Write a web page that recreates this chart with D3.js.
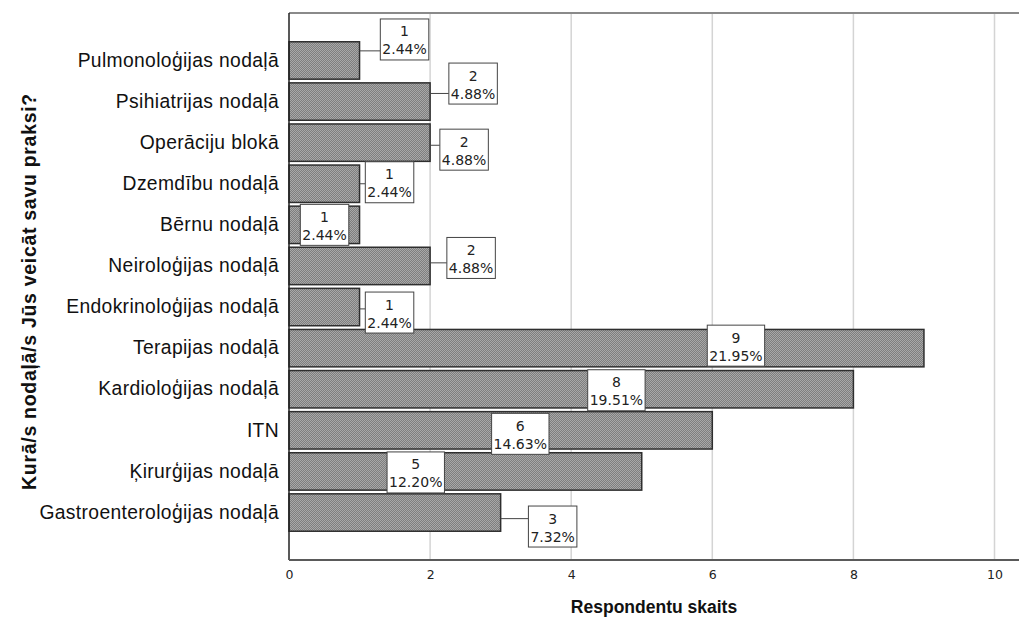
<!DOCTYPE html>
<html>
<head>
<meta charset="utf-8">
<script src="https://cdn.jsdelivr.net/npm/d3@7"></script>
<style>
  html, body { margin: 0; padding: 0; background: #fff; }
  svg { display: block; }
</style>
</head>
<body>
<svg id="chart" width="1019" height="621"></svg>
<script>
// Departments, listed top to bottom
const categories = [
  "Pulmonoloģijas nodaļā",
  "Psihiatrijas nodaļā",
  "Operāciju blokā",
  "Dzemdību nodaļā",
  "Bērnu nodaļā",
  "Neiroloģijas nodaļā",
  "Endokrinoloģijas nodaļā",
  "Terapijas nodaļā",
  "Kardioloģijas nodaļā",
  "ITN",
  "Ķirurģijas nodaļā",
  "Gastroenteroloģijas nodaļā"
];
// Number of respondents per department
const counts = [1, 2, 2, 1, 1, 2, 1, 9, 8, 6, 5, 3];
// Axis ticks
const xTicks = [0, 2, 4, 6, 8, 10];
const xTitle = "Respondentu skaits";
const yTitle = "Kurā/s nodaļā/s Jūs veicāt savu praksi?";

// Callout box centre offsets (px) from the bar end / bar centre
const calloutOffsets = [
  [45, -21], [43, -18], [34, 7], [30, -1.5], [-35, 0], [41, -8],
  [30, 5.5], [-188, -2.5], [-237, 1], [-192, 3.5], [-226, 1], [52, 14]
];

const total = d3.sum(counts);
const rows = categories.map((c, i) => ({
  cat: c,
  n: counts[i],
  pct: (counts[i] / total * 100).toFixed(2) + "%",
  off: calloutOffsets[i]
}));

const plot = { left: 289, top: 13, right: 1019, bottom: 560 };

const svg = d3.select("#chart");

// Checkered fill for the bars
const defs = svg.append("defs");
const pat = defs.append("pattern")
  .attr("id", "checker")
  .attr("width", 2).attr("height", 2)
  .attr("patternUnits", "userSpaceOnUse");
pat.append("rect").attr("width", 2).attr("height", 2).attr("fill", "#7e7e7e");
pat.append("rect").attr("x", 0).attr("y", 0).attr("width", 1).attr("height", 1).attr("fill", "#a8a8a8");
pat.append("rect").attr("x", 1).attr("y", 1).attr("width", 1).attr("height", 1).attr("fill", "#a8a8a8");

const x = d3.scaleLinear().domain([0, 10]).range([plot.left, 994.5]);
const y = d3.scaleBand()
  .domain(categories)
  .range([plot.top, plot.bottom])
  .paddingInner(0.09)
  .paddingOuter(0.7);

// Vertical grid lines
svg.append("g")
  .selectAll("line")
  .data(xTicks.filter(t => t > 0))
  .join("line")
  .attr("x1", d => x(d)).attr("x2", d => x(d))
  .attr("y1", plot.top).attr("y2", plot.bottom)
  .attr("stroke", "#d4d4d4")
  .attr("stroke-width", 1.5);

// Frame: top edge
svg.append("line")
  .attr("x1", plot.left).attr("x2", plot.right)
  .attr("y1", plot.top).attr("y2", plot.top)
  .attr("stroke", "#8a8a8a").attr("stroke-width", 2);

// Bars
svg.append("g")
  .selectAll("rect")
  .data(rows)
  .join("rect")
  .attr("x", x(0))
  .attr("y", d => y(d.cat))
  .attr("width", d => x(d.n) - x(0))
  .attr("height", y.bandwidth())
  .attr("fill", "url(#checker)")
  .attr("stroke", "#2e2e2e")
  .attr("stroke-width", 1.5);

// Frame: left edge
svg.append("line")
  .attr("x1", plot.left).attr("x2", plot.left)
  .attr("y1", plot.top).attr("y2", plot.bottom)
  .attr("stroke", "#222").attr("stroke-width", 1.5);

// X axis
const xAxis = svg.append("g")
  .attr("transform", `translate(0,${plot.bottom})`)
  .call(d3.axisBottom(x).tickValues(xTicks).tickSize(0).tickPadding(10).tickFormat(d3.format("d")));
xAxis.select(".domain").remove();
xAxis.append("line")
  .attr("x1", plot.left).attr("x2", plot.right)
  .attr("y1", 0).attr("y2", 0)
  .attr("stroke", "#5a5a5a").attr("stroke-width", 2);
xAxis.selectAll("text")
  .attr("font-family", "DejaVu Sans, sans-serif")
  .attr("font-size", 12.5)
  .attr("fill", "#222");

// Y axis category labels
const yAxis = svg.append("g")
  .attr("transform", `translate(${plot.left},0)`)
  .call(d3.axisLeft(y).tickSize(0).tickPadding(10));
yAxis.select(".domain").remove();
yAxis.selectAll("text")
  .attr("font-family", "Liberation Sans, Arial, sans-serif")
  .attr("font-size", 19.3)
  .attr("letter-spacing", 0.35)
  .attr("fill", "#111");

// Axis titles
svg.append("text")
  .attr("x", (plot.left + plot.right) / 2)
  .attr("y", 613)
  .attr("text-anchor", "middle")
  .attr("font-family", "Liberation Sans, Arial, sans-serif")
  .attr("font-weight", "bold")
  .attr("font-size", 17.5)
  .attr("fill", "#111")
  .text(xTitle);

svg.append("text")
  .attr("transform", `translate(36,${(plot.top + plot.bottom) / 2 + 5}) rotate(-90)`)
  .attr("text-anchor", "middle")
  .attr("font-family", "Liberation Sans, Arial, sans-serif")
  .attr("font-weight", "bold")
  .attr("font-size", 19.5)
  .attr("letter-spacing", 0.7)
  .attr("fill", "#111")
  .text(yTitle);

// Value callouts: count and percentage in a boxed label
const boxH = 41;
const callouts = svg.append("g");
rows.forEach(d => {
  const barEnd = x(d.n);
  const barTop = y(d.cat), barBot = barTop + y.bandwidth();
  const cy = barTop + y.bandwidth() / 2 + d.off[1];
  const cx = barEnd + d.off[0];
  const g = callouts.append("g");
  const t1 = g.append("text")
    .attr("x", cx).attr("y", cy - boxH / 2 + 17.5)
    .attr("text-anchor", "middle")
    .attr("font-family", "DejaVu Sans, sans-serif")
    .attr("font-size", 14)
    .attr("fill", "#222")
    .text(d.n);
  const t2 = g.append("text")
    .attr("x", cx).attr("y", cy - boxH / 2 + 35.5)
    .attr("text-anchor", "middle")
    .attr("font-family", "DejaVu Sans, sans-serif")
    .attr("font-size", 14)
    .attr("fill", "#222")
    .text(d.pct);
  const w = Math.max(t1.node().getComputedTextLength(), t2.node().getComputedTextLength()) + 4;
  const bx = cx - w / 2, by = cy - boxH / 2;
  g.insert("rect", "text")
    .attr("x", bx).attr("y", by)
    .attr("width", w).attr("height", boxH)
    .attr("fill", "#fff")
    .attr("stroke", "#444")
    .attr("stroke-width", 1);
  // Leader line for callouts placed beyond the bar end
  if (bx > barEnd) {
    const lo = Math.max(barTop, by), hi = Math.min(barBot, by + boxH);
    const ly = (lo + hi) / 2;
    g.insert("line", "rect")
      .attr("x1", barEnd).attr("x2", bx)
      .attr("y1", ly).attr("y2", ly)
      .attr("stroke", "#444").attr("stroke-width", 1);
  }
});
</script>
</body>
</html>
